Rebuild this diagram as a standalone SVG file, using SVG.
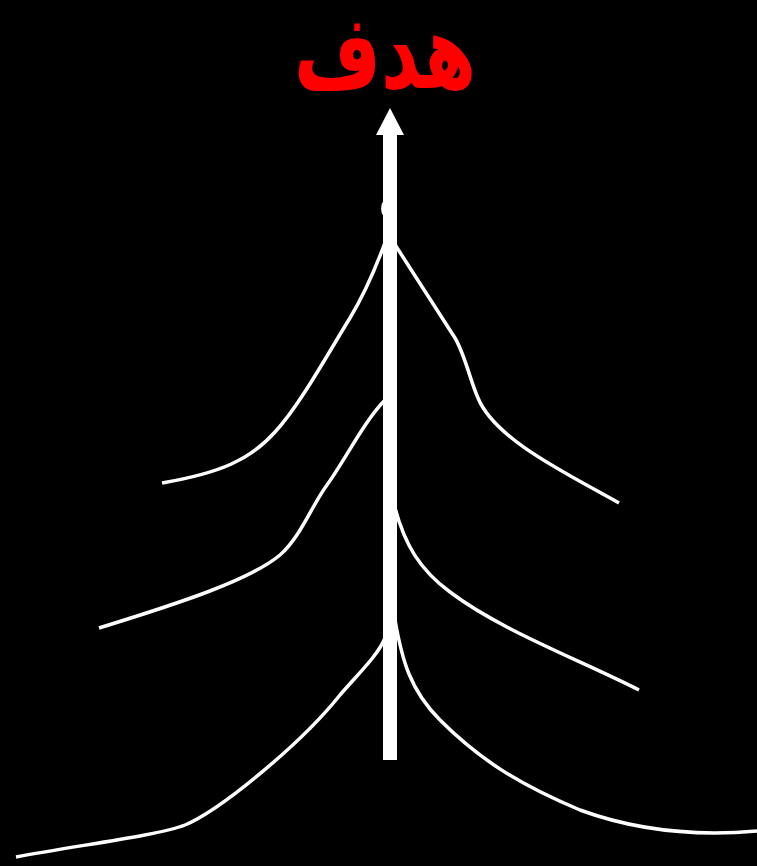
<svg xmlns="http://www.w3.org/2000/svg" width="757" height="866" viewBox="0 0 757 866">
<style>
.c{fill:none;stroke:#fff;stroke-width:3.5;stroke-linecap:butt}
.t{font-family:"DejaVu Sans",sans-serif;font-weight:bold;fill:#ff0000}
</style>
<rect width="757" height="866" fill="#000"/>
<g id="connectors">
<path class="c" d="M162,483 C220,473 250,460 275,432 C300,405 330,350 350,318 C365,293 375,270 386,240"/>
<path class="c" d="M392,240 L455,338 C465,355 470,380 478,398 C495,440 570,475 619,503"/>
<path class="c" d="M99,628 C180,603 250,580 280,555 C300,538 312,505 327,485 C345,460 365,420 385,400"/>
<path class="c" d="M395,508 C405,545 420,570 450,592 C500,630 580,660 639,690"/>
<path class="c" d="M16,857 C80,845 160,835 185,825 C220,810 300,745 340,695 C360,672 378,655 385,638"/>
<path class="c" d="M395,620 C402,660 410,690 440,720 C480,760 520,785 580,810 C640,832 700,836 757,831"/>
<path class="c" d="M384,203 C382.5,206 382.5,211 384,214" stroke-width="1.5"/>
</g>
<g id="arrow">
<rect x="383" y="133" width="14" height="627" fill="#fff"/>
<polygon points="390,108 376,135 404,135" fill="#fff"/>
</g>
<g id="title">
<text class="t" font-size="104" text-anchor="middle" transform="translate(385,88) scale(0.72,1)">هدف</text>
</g>
</svg>
